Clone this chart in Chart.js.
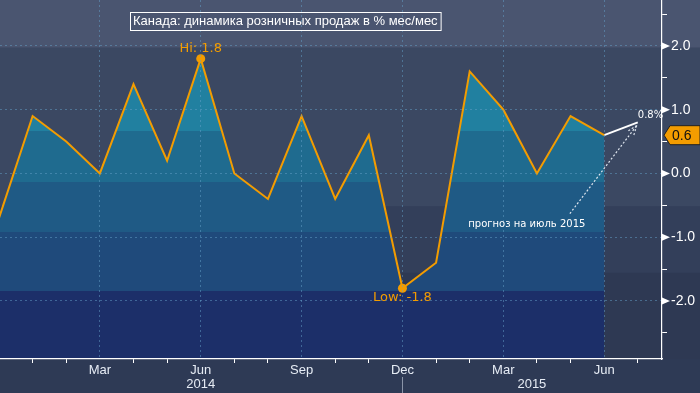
<!DOCTYPE html>
<html>
<head>
<meta charset="utf-8">
<script src="https://cdn.jsdelivr.net/npm/chart.js@4.4.0/dist/chart.umd.min.js"></script>
<style>
  html, body { margin: 0; padding: 0; background: #2e3a55; }
  #wrap { width: 700px; height: 393px; }
</style>
</head>
<body>
<div id="wrap"><canvas id="chart" width="700" height="393"></canvas></div>
<script>
// month index 0 = Dec 2013
const months = ["Dec", "Jan", "Feb", "Mar", "Apr", "May", "Jun", "Jul", "Aug", "Sep", "Oct", "Nov",
                "Dec", "Jan", "Feb", "Mar", "Apr", "May", "Jun", "Jul"];
const retailMoM = [-0.7, 0.9, 0.5, 0.0, 1.4, 0.2, 1.8, 0.0, -0.4, 0.9, -0.4, 0.6,
                   -1.8, -1.4, 1.6, 1.0, 0.0, 0.9, 0.6];
const forecastX = [18, 19];
const forecastY = [0.6, 0.8];
const years = ["2014", "2015"];
const yearAt = [6, 15.85];
const yearBreak = 12;
const hiIndex = 6;
const lowIndex = 12;
const yMin = -2.91, yMax = 2.72;
const xMin = 0.03, xMax = 19.72;

// background bands (value edges) and fill bands under the line
const bgEdges = [yMax, 1.97, -0.52, -1.56, yMin];
const bgColors = ["#4a5570", "#3b4862", "#333f5a", "#2e3953"];
const fillEdges = [0.66, -0.14, -0.92, -1.84];
const fillColors = ["#2180a0", "#1f6b8f", "#1f5a85", "#1f4a7b", "#1c2f69"];

const orange = "#f39c00";
const gridColor = "rgba(100,160,200,0.5)";
const font = "DejaVu Sans";
const axisFont = "Liberation Sans";

function bandFill(context) {
  const chart = context.chart;
  const area = chart.chartArea;
  if (!area) return null;
  const y = chart.scales.y;
  const g = chart.ctx.createLinearGradient(0, area.top, 0, area.bottom);
  const h = area.bottom - area.top;
  let prev = 0;
  fillEdges.forEach((v, i) => {
    const s = Math.min(1, Math.max(0, (y.getPixelForValue(v) - area.top) / h));
    g.addColorStop(prev, fillColors[i]);
    g.addColorStop(s, fillColors[i]);
    prev = s;
  });
  g.addColorStop(prev, fillColors[fillColors.length - 1]);
  g.addColorStop(1, fillColors[fillColors.length - 1]);
  return g;
}

const bands = {
  id: "bands",
  beforeDraw(chart) {
    const { ctx, scales: { y } } = chart;
    ctx.save();
    for (let i = 0; i < bgColors.length; i++) {
      const top = y.getPixelForValue(bgEdges[i]);
      const bot = y.getPixelForValue(bgEdges[i + 1]);
      ctx.fillStyle = bgColors[i];
      ctx.fillRect(0, top, chart.width, bot - top);
    }
    ctx.restore();
  }
};

const notes = {
  id: "notes",
  afterDraw(chart) {
    const { ctx, chartArea: area, scales: { x, y } } = chart;
    const pts = chart.getDatasetMeta(0).data;
    ctx.save();

    // title box
    ctx.font = "13px '" + axisFont + "'";
    ctx.textBaseline = "middle";
    ctx.textAlign = "left";
    const title = "Канада: динамика розничных продаж в % мес/мес";
    const tw = ctx.measureText(title).width;
    const tx = 133, ty = 21.5;
    ctx.fillStyle = "#ffffff";
    ctx.fillText(title, tx, ty);
    ctx.strokeStyle = "#ffffff";
    ctx.lineWidth = 1;
    ctx.strokeRect(tx - 2.5, ty - 9, tw + 6, 18);

    // hi / low
    ctx.font = "13px '" + font + "'";
    ctx.fillStyle = orange;
    ctx.textAlign = "center";
    const hi = pts[hiIndex];
    ctx.textBaseline = "bottom";
    ctx.fillText("Hi: " + retailMoM[hiIndex].toFixed(1), hi.x, hi.y - 4);
    const lo = pts[lowIndex];
    ctx.textBaseline = "top";
    ctx.fillText("Low: " + retailMoM[lowIndex].toFixed(1), lo.x, lo.y + 3);

    // forecast note with dotted arrow
    const fx = x.getPixelForValue(forecastX[1]);
    const fy = y.getPixelForValue(forecastY[1]);
    ctx.font = "10px '" + font + "'";
    ctx.fillStyle = "#ffffff";
    ctx.textAlign = "left";
    ctx.textBaseline = "bottom";
    ctx.fillText(forecastY[1].toFixed(1) + "%", fx, fy - 2);
    ctx.textAlign = "center";
    ctx.textBaseline = "middle";
    ctx.fillText("прогноз на июль 2015", x.getPixelForValue(15.7), y.getPixelForValue(-0.8));

    const ax = x.getPixelForValue(16.98), ay = y.getPixelForValue(-0.63);
    ctx.strokeStyle = "#dfe6ef";
    ctx.lineWidth = 1.2;
    ctx.setLineDash([2, 2]);
    ctx.beginPath();
    ctx.moveTo(ax, ay);
    ctx.lineTo(fx - 1, fy + 3);
    const ang = Math.atan2(fy + 3 - ay, fx - 1 - ax);
    ctx.moveTo(fx - 1, fy + 3);
    ctx.lineTo(fx - 1 - 10 * Math.cos(ang - 0.35), fy + 3 - 10 * Math.sin(ang - 0.35));
    ctx.moveTo(fx - 1, fy + 3);
    ctx.lineTo(fx - 1 - 10 * Math.cos(ang + 0.35), fy + 3 - 10 * Math.sin(ang + 0.35));
    ctx.stroke();
    ctx.setLineDash([]);

    // triangles on the major y ticks
    ctx.fillStyle = "#ffffff";
    y.ticks.forEach(t => {
      if (!Number.isInteger(t.value)) return;
      const py = y.getPixelForValue(t.value);
      ctx.beginPath();
      ctx.moveTo(area.right, py - 3.5);
      ctx.lineTo(area.right + 8, py);
      ctx.lineTo(area.right, py + 3.5);
      ctx.closePath();
      ctx.fill();
    });

    // last value tag
    const last = retailMoM[retailMoM.length - 1];
    const ly = y.getPixelForValue(last);
    ctx.fillStyle = orange;
    ctx.beginPath();
    ctx.moveTo(area.right + 2, ly);
    ctx.lineTo(area.right + 8, ly - 9.5);
    ctx.lineTo(chart.width, ly - 9.5);
    ctx.lineTo(chart.width, ly + 9.5);
    ctx.lineTo(area.right + 8, ly + 9.5);
    ctx.closePath();
    ctx.fill();
    ctx.strokeStyle = "#222";
    ctx.lineWidth = 1;
    ctx.stroke();
    ctx.fillStyle = "#111";
    ctx.font = "14px '" + axisFont + "'";
    ctx.textAlign = "left";
    ctx.textBaseline = "middle";
    ctx.fillText(last.toFixed(1), area.right + 10, ly + 1);

    // years and year break
    ctx.fillStyle = "#e6ecf5";
    ctx.font = "13px '" + axisFont + "'";
    ctx.textAlign = "center";
    years.forEach((t, i) => ctx.fillText(t, x.getPixelForValue(yearAt[i]), area.bottom + 25));
    const bx = Math.round(x.getPixelForValue(yearBreak)) + 0.5;
    ctx.strokeStyle = "#8a94a8";
    ctx.beginPath();
    ctx.moveTo(bx, area.bottom + 18);
    ctx.lineTo(bx, chart.height);
    ctx.stroke();

    ctx.restore();
  }
};

new Chart(document.getElementById("chart"), {
  type: "line",
  data: {
    datasets: [
      {
        data: retailMoM.map((v, i) => ({ x: i, y: v })),
        borderColor: orange,
        borderWidth: 2,
        backgroundColor: bandFill,
        fill: "start",
        tension: 0,
        pointRadius: (c) => (c.dataIndex === hiIndex || c.dataIndex === lowIndex ? 4.5 : 0),
        pointBackgroundColor: orange,
        pointBorderWidth: 0,
      },
      {
        data: forecastX.map((v, i) => ({ x: v, y: forecastY[i] })),
        borderColor: "#ffffff",
        borderWidth: 2,
        fill: false,
        pointRadius: 0,
      },
    ],
  },
  options: {
    responsive: false,
    animation: false,
    layout: { padding: 0 },
    plugins: {
      legend: { display: false },
      tooltip: { enabled: false },
    },
    scales: {
      x: {
        type: "linear",
        min: xMin,
        max: xMax,
        afterFit(s) { s.height = 34; s.paddingLeft = 0; s.paddingRight = 0; },
        ticks: {
          stepSize: 1,
          includeBounds: false,
          autoSkip: false,
          maxRotation: 0,
          padding: 0,
          color: "#e6ecf5",
          font: { family: axisFont, size: 13 },
          callback: (v) => (v % 3 === 0 ? months[v] : ""),
        },
        grid: {
          z: 1,
          color: (c) => (c.tick && c.tick.value % 3 === 0 ? gridColor : "rgba(0,0,0,0)"),
          tickColor: (c) => (c.tick && c.tick.value % 3 !== 0 ? "#ffffff" : "rgba(0,0,0,0)"),
          tickLength: 4,
        },
        border: { color: "#ffffff", width: 1.2, dash: [2, 3], z: 1 },
      },
      y: {
        position: "right",
        min: yMin,
        max: yMax,
        afterFit(s) { s.width = 38; s.paddingTop = 0; s.paddingBottom = 0; },
        ticks: {
          stepSize: 0.5,
          includeBounds: false,
          padding: 4,
          color: "#ffffff",
          font: { family: axisFont, size: 14 },
          callback: (v) => (Number.isInteger(v) ? v.toFixed(1) : ""),
        },
        grid: {
          z: 1,
          color: (c) => (c.tick && Number.isInteger(c.tick.value) ? gridColor : "rgba(0,0,0,0)"),
          tickColor: (c) => (c.tick && !Number.isInteger(c.tick.value) ? "#ffffff" : "rgba(0,0,0,0)"),
          tickLength: 5,
        },
        border: { color: "#ffffff", width: 1.2, dash: [2, 3], z: 1 },
      },
    },
  },
  plugins: [bands, notes],
});
</script>
</body>
</html>
